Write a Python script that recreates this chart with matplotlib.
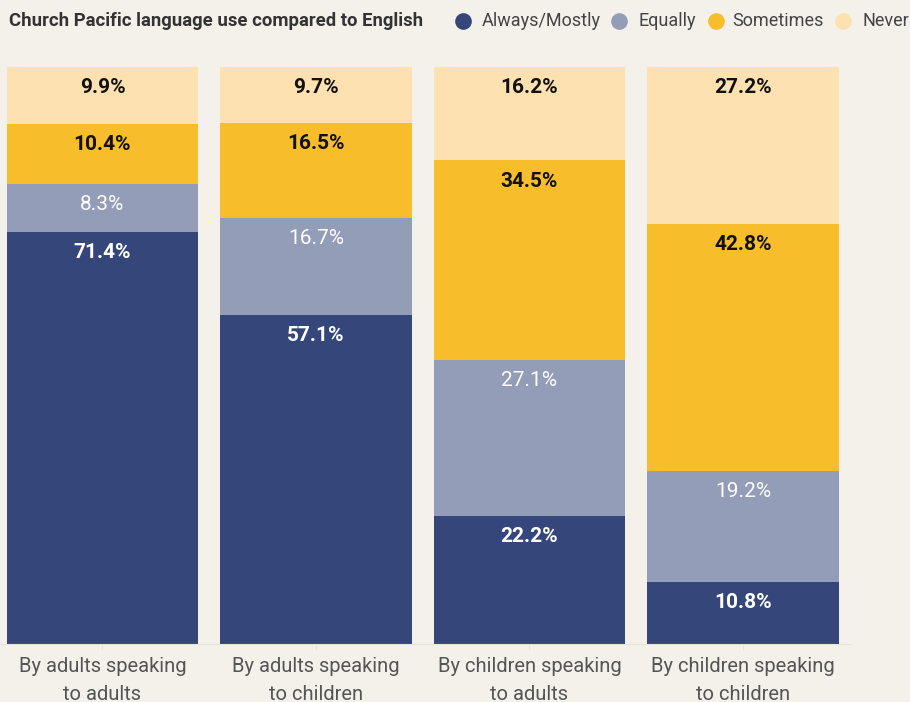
import matplotlib.pyplot as plt
from matplotlib.lines import Line2D

# data (percent)
categories = ['By adults speaking\nto adults', 'By adults speaking\nto children',
              'By children speaking\nto adults', 'By children speaking\nto children']
series_names = ['Always/Mostly', 'Equally', 'Sometimes', 'Never']
always = [71.4, 57.1, 22.2, 10.8]
equally = [8.3, 16.7, 27.1, 19.2]
sometimes = [10.4, 16.5, 34.5, 42.8]
never = [9.9, 9.7, 16.2, 27.2]

colors = ['#34467a', '#949db8', '#f8bd2a', '#fde1b0']
label_colors = ['white', 'white', '#111111', '#111111']
label_weights = ['bold', 'normal', 'bold', 'bold']
bg = '#f4f1ea'

plt.rcParams['font.family'] = ['Roboto', 'DejaVu Sans']

fig = plt.figure(figsize=(9.1, 7.02), dpi=100, facecolor=bg)
ax = fig.add_axes([0.0, 1 - 644 / 702, 851 / 910, 577 / 702], facecolor=bg)

x = list(range(len(categories)))
bottom = [0.0] * len(categories)
for vals, col, lc, lw in zip([always, equally, sometimes, never], colors, label_colors, label_weights):
    ax.bar(x, vals, bottom=bottom, width=0.895, color=col, edgecolor='none')
    for i, v in enumerate(vals):
        top = bottom[i] + v
        ax.text(x[i], top - 3.6, f'{v}%', ha='center', va='center',
                fontsize=15, color=lc, fontweight=lw)
    bottom = [b + v for b, v in zip(bottom, vals)]

ax.set_xlim(-0.48, 3.506)
ax.set_ylim(0, 100)
ax.set_xticks(x)
ax.set_xticklabels(categories, fontsize=14.5, color='#555555', linespacing=1.6)
ax.tick_params(axis='x', length=4, color='#e6e3dc', pad=5)
ax.set_yticks([])
for s in ['top', 'right', 'left']:
    ax.spines[s].set_visible(False)
ax.spines['bottom'].set_color('#e6e3dc')

ty = 1 - 21 / 702
fig.text(9 / 910, ty, 'Church Pacific language use compared to English',
         fontsize=13.3, fontweight='bold', color='#333333', va='center', ha='left')

# legend placed item by item, like the original
marker_x = [463, 619, 716, 843]
text_x = [482, 638, 732, 862]
for name, c, mx, tx in zip(series_names, colors, marker_x, text_x):
    fig.add_artist(Line2D([mx / 910], [ty], marker='o', linestyle='none', markersize=12,
                          markerfacecolor=c, markeredgecolor='none', transform=fig.transFigure))
    fig.text(tx / 910, ty, name, fontsize=13, color='#444444', va='center', ha='left')

plt.savefig('out.png', dpi=100, facecolor=bg)
